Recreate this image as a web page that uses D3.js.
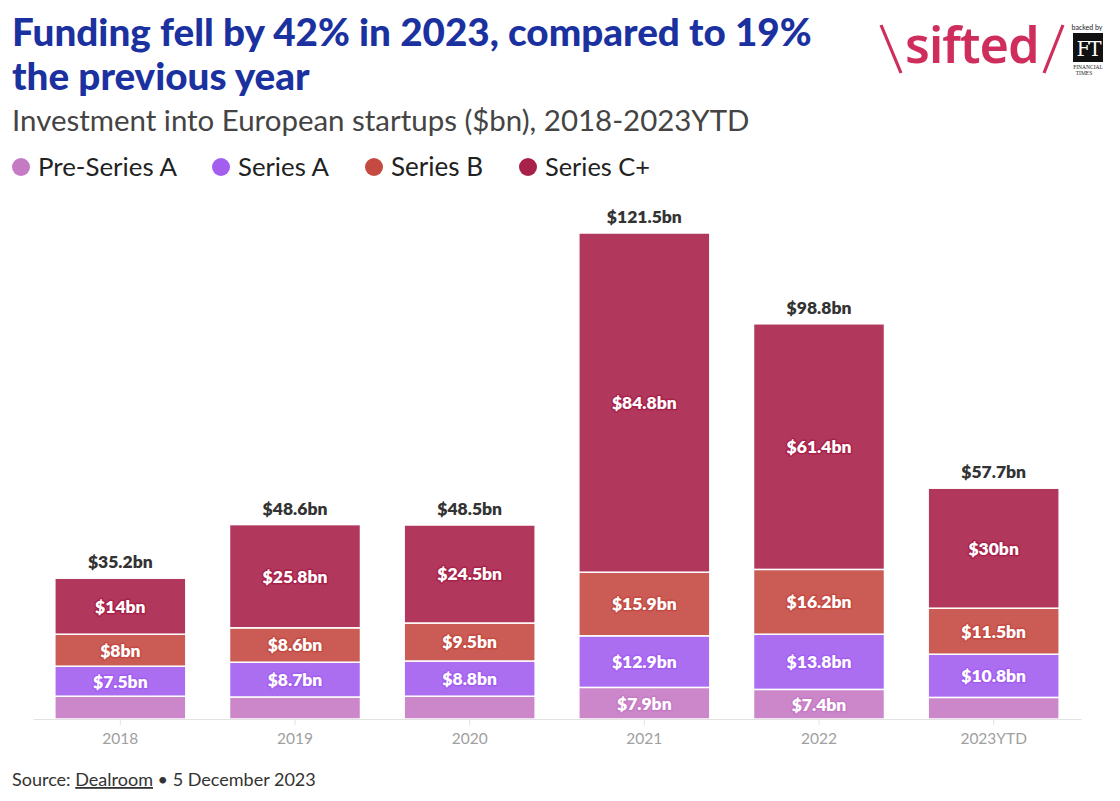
<!DOCTYPE html>
<html><head><meta charset="utf-8">
<script src="https://cdn.jsdelivr.net/npm/d3@7"></script>
<style>
body{margin:0;background:#fff;}
svg{display:block;font-family:"Source Sans Pro","Lato","Noto Sans",sans-serif;}
</style></head>
<body><svg id="c" width="1120" height="801"></svg>
<script>
const categories = ["2018","2019","2020","2021","2022","2023YTD"];
const seriesNames = ["Pre-Series A","Series A","Series B","Series C+"];
const preSeriesA = [5.7, 5.5, 5.7, 7.9, 7.4, 5.4];
const seriesA    = [7.5, 8.7, 8.8, 12.9, 13.8, 10.8];
const seriesB    = [8.0, 8.6, 9.5, 15.9, 16.2, 11.5];
const seriesCplus= [14.0, 25.8, 24.5, 84.8, 61.4, 30.0];
const totals     = [35.2, 48.6, 48.5, 121.5, 98.8, 57.7];
const colors = ["#c57ac4","#a35ef0","#c44a42","#a8214a"];

const svg = d3.select("#c");

function fitText(textSel, measureNode, target){
  const w = measureNode.getComputedTextLength();
  if (w>0) { const fs = parseFloat(textSel.attr("font-size")); textSel.attr("font-size", fs*target/w); }
}

// Titles
const title = svg.append("text").attr("x",12).attr("fill","#1b31a0")
  .attr("font-weight",900).attr("font-size",34);
const t1 = title.append("tspan").attr("x",12).attr("y",46).text("Funding fell by 42% in 2023, compared to 19%");
title.append("tspan").attr("x",12).attr("y",90).text("the previous year");
fitText(title, t1.node(), 800);

const sub = svg.append("text").attr("x",12).attr("y",131).attr("fill","#444").attr("font-size",27)
  .text("Investment into European startups ($bn), 2018-2023YTD");
fitText(sub, sub.node(), 738);

// Legend
const legendX = [12, 212, 365, 519];
const legendW = [139, 91, 92, 105];
const lg = svg.append("g");
seriesNames.forEach((s,i)=>{
  lg.append("circle").attr("cx",legendX[i]+9).attr("cy",167).attr("r",9).attr("fill",colors[i]);
  const t = lg.append("text").attr("x",legendX[i]+26).attr("y",176).attr("font-size",25)
    .attr("fill","#222").text(s);
  fitText(t, t.node(), legendW[i]);
});

// Scales
const x = d3.scaleBand().domain(categories).range([33,1081]).paddingInner(0.25).paddingOuter(0.125);
const y = d3.scaleLinear().domain([0,121.5]).range([719,233]);

const data = categories.map((c,i)=>({cat:c, "Pre-Series A":preSeriesA[i], "Series A":seriesA[i], "Series B":seriesB[i], "Series C+":seriesCplus[i], total:totals[i]}));
const stack = d3.stack().keys(seriesNames)(data);

const fmt = v => "$" + (+v.toFixed(1)) + "bn";

stack.forEach((layer,li)=>{
  const g = svg.append("g");
  g.selectAll("rect").data(layer).join("rect")
    .attr("x",d=>x(d.data.cat)).attr("width",x.bandwidth())
    .attr("y",d=>y(d[1])).attr("height",d=>y(d[0])-y(d[1]))
    .attr("fill",colors[li]).attr("fill-opacity",0.9)
    .attr("stroke","#fff").attr("stroke-width",1.5);
  g.selectAll("text").data(layer.filter(d=>y(d[0])-y(d[1])>25)).join("text")
    .attr("x",d=>x(d.data.cat)+x.bandwidth()/2)
    .attr("y",d=>(y(d[0])+y(d[1]))/2).attr("dy","0.36em")
    .attr("text-anchor","middle").attr("font-size",17.5).attr("font-weight",800)
    .attr("fill","#fff").attr("stroke",colors[li]).attr("stroke-width",3)
    .attr("stroke-linejoin","round").attr("paint-order","stroke")
    .text(d=>fmt(d[1]-d[0]));
});

// totals
svg.append("g").selectAll("text").data(data).join("text")
  .attr("x",d=>x(d.cat)+x.bandwidth()/2).attr("y",d=>y(d.total)-10)
  .attr("text-anchor","middle").attr("font-size",17.5).attr("font-weight",800).attr("fill","#333")
  .text(d=>fmt(d.total));

// axis
const ax = svg.append("g").attr("transform","translate(0,719)")
  .call(d3.axisBottom(x).tickSize(6).tickPadding(8).tickSizeOuter(0));
ax.select(".domain").attr("stroke","#e2e2e2");
ax.selectAll(".tick line").attr("stroke","#e2e2e2");
ax.selectAll(".tick text").attr("fill","#a0a0a0").attr("font-size",15.5)
  .attr("font-family","'Source Sans Pro','Lato','Noto Sans',sans-serif");

// source
const src = svg.append("text").attr("x",12).attr("y",786).attr("font-size",18).attr("fill","#333");
src.append("tspan").text("Source: ");
src.append("tspan").attr("text-decoration","underline").text("Dealroom");
src.append("tspan").text(" \u2022 5 December 2023");
fitText(src, src.node(), 304);

// logo
const logo = svg.append("g");
const lc = "#cf2d5c";
logo.append("line").attr("x1",881).attr("y1",25).attr("x2",901).attr("y2",73).attr("stroke",lc).attr("stroke-width",3.2);
const sf = logo.append("text").attr("x",905).attr("y",63).attr("font-size",46)
  .attr("font-weight",600).attr("fill",lc).attr("font-family","'Noto Sans',sans-serif").attr("letter-spacing",-1).text("sifted");
fitText(sf, sf.node(), 133);
logo.append("line").attr("x1",1063).attr("y1",25).attr("x2",1044).attr("y2",73).attr("stroke",lc).attr("stroke-width",3.2);
logo.append("text").attr("x",1087).attr("y",30).attr("text-anchor","middle").attr("font-size",7).attr("fill","#222").text("backed by");
logo.append("rect").attr("x",1073).attr("y",33).attr("width",30).attr("height",29).attr("fill","#111");
logo.append("text").attr("x",1088).attr("y",56).attr("text-anchor","middle").attr("font-size",20)
  .attr("fill","#fff").attr("font-family","'DejaVu Serif','Liberation Serif',serif").attr("letter-spacing",-2).text("FT");
logo.append("text").attr("x",1088).attr("y",69).attr("text-anchor","middle").attr("font-size",5.5)
  .attr("fill","#222").attr("font-family","'Liberation Serif',serif").text("FINANCIAL");
logo.append("text").attr("x",1084).attr("y",75).attr("text-anchor","middle").attr("font-size",5.5)
  .attr("fill","#222").attr("font-family","'Liberation Serif',serif").text("TIMES");
</script></body></html>
